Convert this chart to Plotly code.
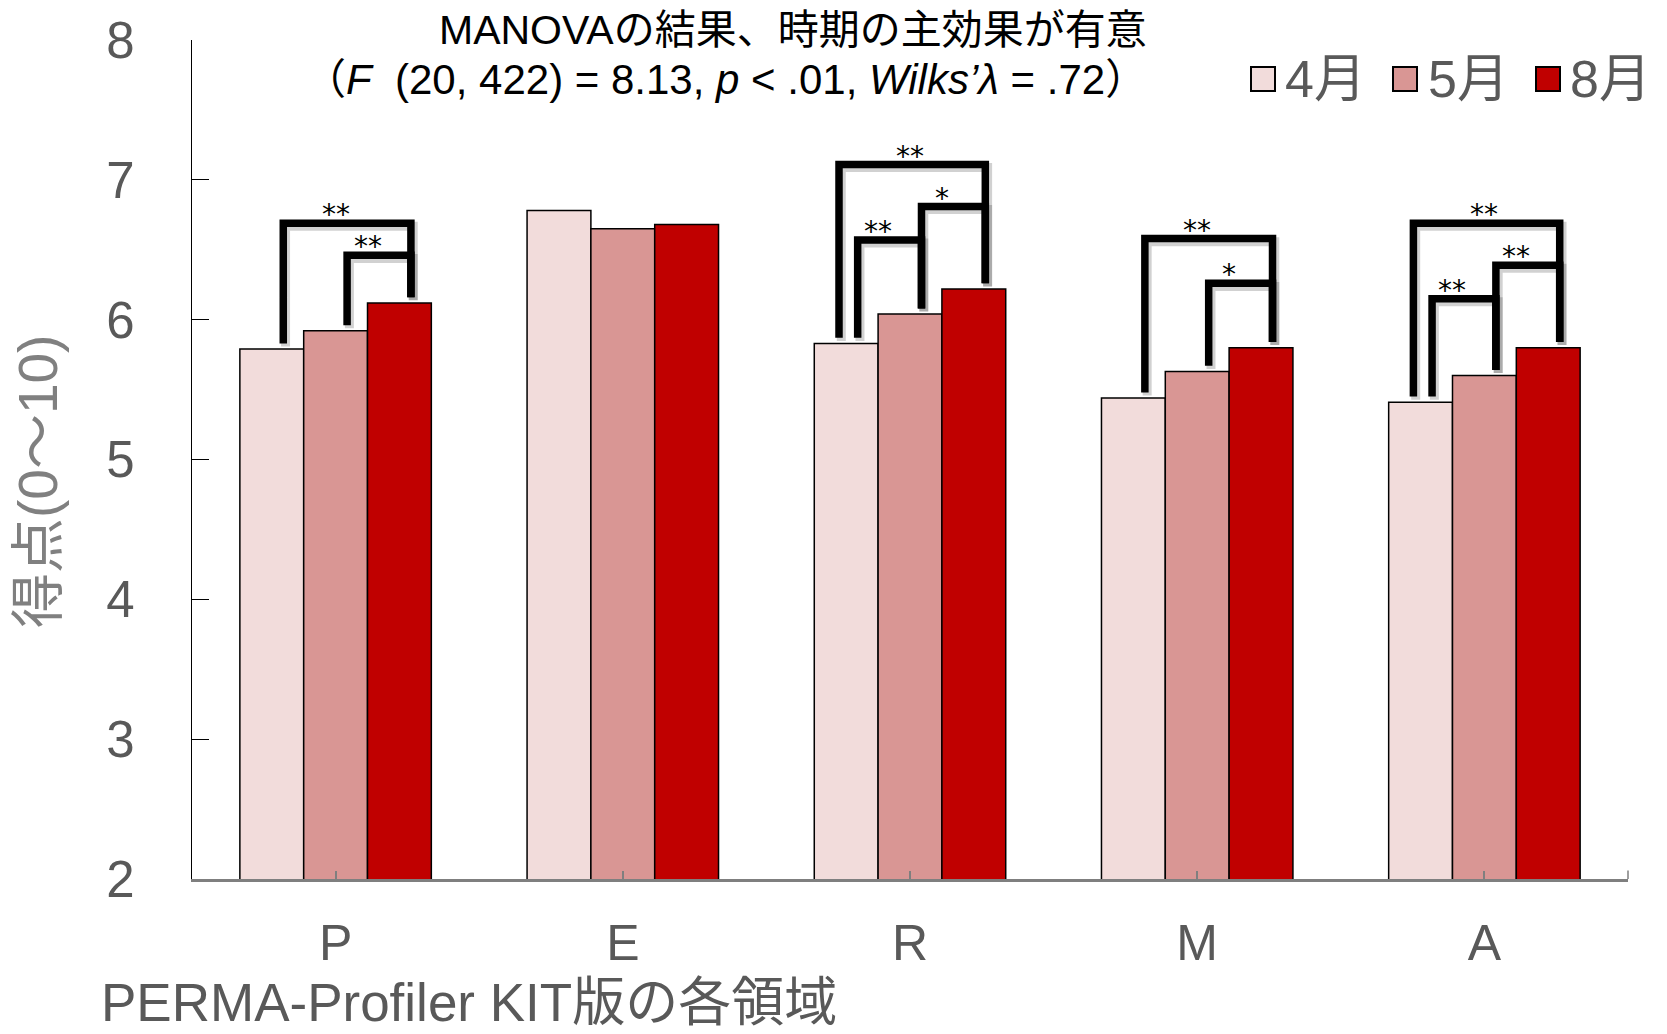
import plotly.graph_objects as go

# PERMA-Profiler domain means by survey month
categories = ["P", "E", "R", "M", "A"]
series_names = ["4月", "5月", "8月"]
april = [5.79, 6.78, 5.83, 5.44, 5.41]
may = [5.92, 6.65, 6.04, 5.63, 5.60]
august = [6.12, 6.68, 6.22, 5.80, 5.80]
bar_colors = ["#F2DCDB", "#D99694", "#C00000"]

y_ticks = [2, 3, 4, 5, 6, 7, 8]

# significance brackets: (category index, left series, right series, bracket height, label)
brackets = [
    (0, 0, 2, 6.69, "**"),
    (0, 1, 2, 6.46, "**"),
    (2, 0, 2, 7.11, "**"),
    (2, 1, 2, 6.81, "*"),
    (2, 0, 1, 6.57, "**"),
    (3, 0, 2, 6.58, "**"),
    (3, 1, 2, 6.26, "*"),
    (4, 0, 2, 6.69, "**"),
    (4, 1, 2, 6.39, "**"),
    (4, 0, 1, 6.15, "**"),
]

title_line1 = "MANOVAの結果、時期の主効果が有意"
title_line2 = "（<i>F</i>  (20, 422) = 8.13, <i>p</i> &lt; .01, <i>Wilks’λ</i> = .72）"
x_title = "PERMA-Profiler KIT版の各領域"
y_title = "得点(0〜10)"

W, H = 1667, 1034
M_L, M_R, M_T, M_B = 192, 39, 40, 155
PW, PH = W - M_L - M_R, H - M_T - M_B

FONT = "Liberation Sans, Arial, Noto Sans CJK JP, sans-serif"
GRAY = "#595959"


def px_x(px):
    return (px - M_L) / PW


def px_y(py):
    return (H - M_B - py) / PH


series_values = [april, may, august]
BARGAP = 1 / 3
BW = (1 - BARGAP) / len(series_names)

fig = go.Figure()
for name, vals, col in zip(series_names, series_values, bar_colors):
    fig.add_trace(go.Bar(
        x=categories, y=vals, name=name,
        marker=dict(color=col, line=dict(color="#000000", width=1.5)),
        showlegend=False,
    ))


def bar_center(k, s):
    return k + (s - (len(series_names) - 1) / 2) * BW


shapes = []
annotations = []

# brackets with leg positions just right of the bar centre; an outer bracket
# sharing its left bar with a lower one steps left of the centre
for (k, i, j, h, lab) in brackets:
    nested = any(b[0] == k and b[1] == i and b[3] < h for b in brackets)
    xl = bar_center(k, i) + (-0.025 if nested else 0.04)
    xr = bar_center(k, j) + 0.04
    yl = series_values[i][k] + 0.04
    yr = series_values[j][k] + 0.04
    for dx, dy, col, w in [(0.008, -0.022, "rgba(0,0,0,0.18)", 9), (0, 0, "#000000", 7.5)]:
        shapes.append(dict(
            type="path", xref="x", yref="y",
            path=f"M {xl+dx},{yl+dy} L {xl+dx},{h+dy} L {xr+dx},{h+dy} L {xr+dx},{yr+dy}",
            line=dict(color=col, width=w), layer="above",
        ))
    annotations.append(dict(
        x=(bar_center(k, i) + bar_center(k, j)) / 2, y=h + 0.06,
        xref="x", yref="y", text=lab, showarrow=False,
        font=dict(family="DejaVu Sans, sans-serif", size=28, color="#000000"),
        xanchor="center", yanchor="middle",
    ))

# tick at the right end of the category axis
shapes.append(dict(type="line", xref="paper", yref="y", x0=1, x1=1, y0=2, y1=2.06,
                   line=dict(color="#7f7f7f", width=1.5)))

# legend swatches and labels
legend_px = [(1251, 1283), (1393, 1426), (1536, 1568)]
for (sx, tx), name, col in zip(legend_px, series_names, bar_colors):
    shapes.append(dict(type="rect", xref="paper", yref="paper",
                       x0=px_x(sx), x1=px_x(sx + 24), y0=px_y(91), y1=px_y(67),
                       fillcolor=col, line=dict(color="#000000", width=2)))
    annotations.append(dict(x=px_x(tx), y=px_y(79), xref="paper", yref="paper",
                            text=name, showarrow=False, xanchor="left", yanchor="middle",
                            font=dict(family=FONT, size=52, color=GRAY)))

# title lines, right aligned
annotations.append(dict(x=px_x(1149), y=px_y(30), xref="paper", yref="paper",
                        text=title_line1, showarrow=False, xanchor="right", yanchor="middle",
                        font=dict(family=FONT, size=41, color="#000000")))
annotations.append(dict(x=px_x(1149), y=px_y(80), xref="paper", yref="paper",
                        text=title_line2, showarrow=False, xanchor="right", yanchor="middle",
                        font=dict(family=FONT, size=42, color="#000000")))

# axis titles
annotations.append(dict(x=px_x(99), y=px_y(H), xref="paper", yref="paper",
                        text=x_title, showarrow=False, xanchor="left", yanchor="bottom",
                        font=dict(family=FONT, size=53, color=GRAY)))
annotations.append(dict(x=px_x(38), y=px_y(482), xref="paper", yref="paper",
                        text=y_title, showarrow=False, xanchor="center", yanchor="middle",
                        textangle=-90,
                        font=dict(family=FONT, size=55, color="#808080")))

fig.update_layout(
    width=W, height=H,
    margin=dict(l=M_L, r=M_R, t=M_T, b=M_B, pad=0),
    paper_bgcolor="white", plot_bgcolor="white",
    barmode="group", bargap=BARGAP, bargroupgap=0,
    shapes=shapes, annotations=annotations,
    font=dict(family=FONT),
    xaxis=dict(
        type="category", range=[-0.5, len(categories) - 0.5],
        showline=True, linecolor="#7f7f7f", linewidth=2.5,
        ticks="inside", ticklen=8, tickcolor="#7f7f7f", tickwidth=1.5,
        tickfont=dict(family=FONT, size=50, color=GRAY),
        ticklabelstandoff=18, showgrid=False, zeroline=False,
    ),
    yaxis=dict(
        range=[2, 8], tickvals=y_ticks,
        showline=True, linecolor="#000000", linewidth=1.2,
        ticks="inside", ticklen=17, tickcolor="#000000", tickwidth=1.2,
        tickfont=dict(family=FONT, size=51, color=GRAY),
        ticklabelstandoff=46, showgrid=False, zeroline=False,
    ),
)

fig.write_html("out.html")
